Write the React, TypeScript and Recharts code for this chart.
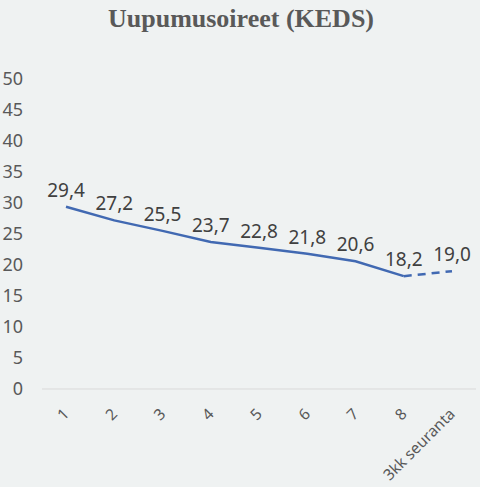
import React from "react";
import { LineChart, Line, XAxis, YAxis, LabelList } from "recharts";

const categories = ["1", "2", "3", "4", "5", "6", "7", "8", "3kk seuranta"];
const treatmentValues: (number | null)[] = [29.4, 27.2, 25.5, 23.7, 22.8, 21.8, 20.6, 18.2, null];
const followUpValues: (number | null)[] = [null, null, null, null, null, null, null, 18.2, 19.0];
const yTicks = [0, 5, 10, 15, 20, 25, 30, 35, 40, 45, 50];

const data = categories.map((c, i) => ({
  name: c,
  hoito: treatmentValues[i],
  seuranta: followUpValues[i],
}));

const LINE = "#4169b2";
const TEXT = "#595959";
const FONT = "'Noto Sans', 'Open Sans', sans-serif";

const fmt = (v: any) => (v == null ? "" : Number(v).toFixed(1).replace(".", ","));

const YTick = (props: any) => {
  const { x, y, payload } = props;
  return (
    <text x={x} y={y} dy={6} textAnchor="end" fill={TEXT} fontSize={18} fontFamily={FONT}>
      {payload.value}
    </text>
  );
};

const XTick = (props: any) => {
  const { x, y, payload } = props;
  const ax = x + 4;
  const ay = y + 18;
  return (
    <text
      x={ax}
      y={ay}
      textAnchor="end"
      fill={TEXT}
      fontSize={15.5}
      fontFamily={FONT}
      transform={`rotate(-45, ${ax}, ${ay})`}
    >
      {payload.value}
    </text>
  );
};

const makeLabel = (onlyIndex?: number) => (props: any) => {
  const { x, y, value, index } = props;
  if (value == null) return null;
  if (onlyIndex !== undefined && index !== onlyIndex) return null;
  return (
    <text x={x} y={y - 10} textAnchor="middle" fill="#404040" fontSize={19} fontFamily={FONT}>
      {fmt(value)}
    </text>
  );
};

export default function App() {
  return (
    <div
      style={{
        position: "fixed",
        left: 0,
        top: 0,
        width: 480,
        height: 487,
        background: "#eff2f2",
      }}
    >
      <div
        style={{
          position: "absolute",
          left: 0,
          top: 4,
          width: 482,
          textAlign: "center",
          fontFamily: "'Liberation Serif', serif",
          fontWeight: "bold",
          fontSize: 26,
          color: TEXT,
        }}
      >
        Uupumusoireet (KEDS)
      </div>
      <LineChart
        width={480}
        height={487}
        data={data}
        margin={{ top: 79, right: 4, bottom: 0, left: 0 }}
      >
        <XAxis
          dataKey="name"
          interval={0}
          padding={{ left: 24, right: 24 }}
          axisLine={{ stroke: "#d9d9d9", strokeWidth: 1 }}
          tickLine={false}
          tick={<XTick />}
          height={98}
        />
        <YAxis
          domain={[0, 50]}
          ticks={yTicks}
          interval={0}
          axisLine={false}
          tickLine={false}
          width={42}
          tick={<YTick />}
          tickMargin={13}
        />
        <Line
          type="linear"
          dataKey="hoito"
          stroke={LINE}
          strokeWidth={2.5}
          dot={false}
          isAnimationActive={false}
          connectNulls={false}
        >
          <LabelList dataKey="hoito" content={makeLabel()} />
        </Line>
        <Line
          type="linear"
          dataKey="seuranta"
          stroke={LINE}
          strokeWidth={2.5}
          strokeDasharray="8 6"
          dot={false}
          isAnimationActive={false}
          connectNulls={false}
        >
          <LabelList dataKey="seuranta" content={makeLabel(8)} />
        </Line>
      </LineChart>
    </div>
  );
}
